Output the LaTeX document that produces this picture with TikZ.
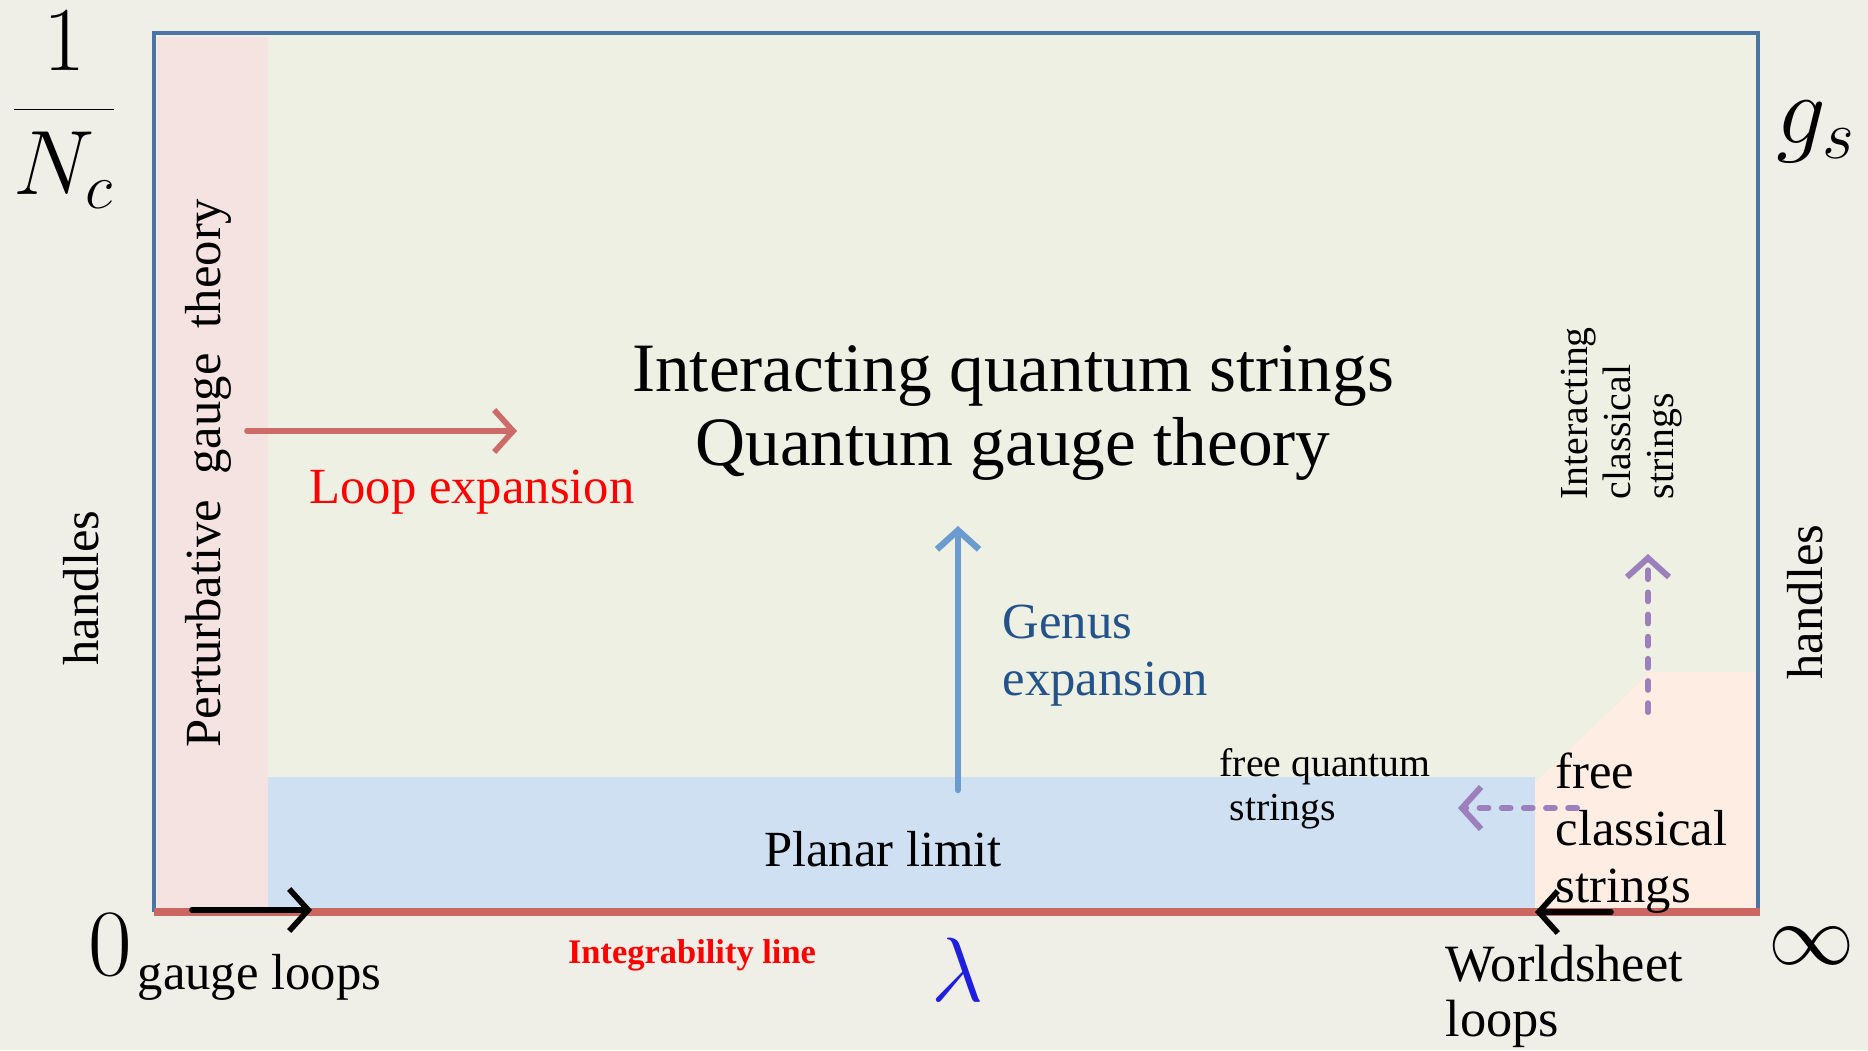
\RequirePackage{fix-cm}
\documentclass[tikz,border=0pt]{standalone}
\usepackage{fontspec}
\setmainfont{Liberation Serif}
\usetikzlibrary{arrows.meta}

\definecolor{bgcol}{HTML}{F0EFE7}
\definecolor{inner}{HTML}{EDF0E3}
\definecolor{pinkreg}{HTML}{F5E3E1}
\definecolor{bluereg}{HTML}{CFE0F2}
\definecolor{peachreg}{HTML}{FDEDE2}
\definecolor{framecol}{HTML}{4A74A4}
\definecolor{redline}{HTML}{CC6660}
\definecolor{looparr}{HTML}{CC6B67}
\definecolor{genusarr}{HTML}{6B9BCF}
\definecolor{purparr}{HTML}{9B80BC}
\definecolor{genustxt}{HTML}{24528A}
\definecolor{lamcol}{HTML}{1F1FE0}

\begin{document}
\begin{tikzpicture}[
	x=0.01cm, y=-0.01cm,
	lbl/.style={inner sep=0pt, font=\fontsize{14.4}{16.2}\selectfont},
	big/.style={inner sep=0pt, font=\fontsize{19.7}{21}\selectfont},
	small/.style={inner sep=0pt, font=\fontsize{11.3}{12.3}\selectfont},
	sym/.style={inner sep=0pt, font=\fontsize{25}{30}\selectfont},
	chev/.style={-{Straight Barb[length=1.9mm, width=4.2mm]}, line cap=round},
	loopar/.style={chev, looparr, line width=1.6pt},
	genar/.style={chev, genusarr, line width=1.8pt},
	purpar/.style={chev, purparr, line width=1.7pt, dash pattern=on 2.5pt off 3.8pt},
	blkar/.style={chev, black, line width=1.6pt},
]

% --- Hintergrund ---
\useasboundingbox[fill=bgcol] (0,0) rectangle (1868,1050);
\fill[inner] (154,33) rectangle (1758,912);
\fill[pinkreg] (157,37) rectangle (268,910);
\fill[bluereg] (268,777) rectangle (1535,910);
\fill[peachreg] (1535,910) -- (1535,783) -- (1650,672) -- (1756,672) -- (1756,910) -- cycle;

% --- Rahmen und Integrabilitaetslinie ---
\draw[framecol, line width=1.4pt] (154,33) rectangle (1758,910);
\draw[redline, line width=2.4pt] (154,912) -- (1760,912);

% --- Achsen ---
\node[sym, font=\fontsize{26}{30}\selectfont] (nc) at (64,110) {$\displaystyle\frac{1}{N_c}$};
\node[sym, font=\fontsize{28}{32}\selectfont] (gs) at (1816,132) {$g_s$};
\node[sym, font=\fontsize{27}{30}\selectfont, anchor=base] (zero) at (110,975) {$0$};
\node[sym, font=\fontsize{24.5}{28}\selectfont] (inf) at (1812,946) {$\infty$};
\node[sym, font=\fontsize{26}{28}\selectfont, text=lamcol] (lam) at (958,970) {$\lambda$};
\node[lbl, rotate=90, anchor=base] (hl) at (98,588) {handles};
\node[lbl, rotate=90, anchor=base] (hr) at (1822,602) {handles};

% --- Bereiche ---
\node[lbl, rotate=90, anchor=base] (pert) at (220,473) {Perturbative\ \ gauge\ \ theory};
\node[big, align=center, anchor=base] (main) at (1013,465)
	{Interacting quantum strings\\Quantum gauge theory};
\node[lbl, text=red, anchor=base] (loop) at (472,503) {Loop expansion};
\node[lbl, text=genustxt, align=left, anchor=base west] (genus) at (1002,695)
	{Genus\\expansion};
\node[lbl, anchor=base] (planar) at (883,866) {Planar limit};
\node[small, align=left, anchor=base west] (fqs) at (1219,820)
	{free quantum\\\hspace*{0.25em}strings};
\node[lbl, align=left, anchor=base west] (fcs) at (1555,902)
	{free\\classical\\strings};
\node[small, rotate=90, align=left, anchor=north west] (ics) at (1560,500)
	{Interacting\\classical\\strings};

% --- untere Beschriftungen ---
\node[lbl, anchor=base west] (gl) at (137,989) {gauge loops};
\node[inner sep=0pt, font=\fontsize{9.8}{11}\selectfont\bfseries, text=red, anchor=base] (intl)
	at (692,963) {Integrability line};
\node[lbl, font=\fontsize{14.9}{15.6}\selectfont, align=left, anchor=base west] (ws)
	at (1445,1036) {Worldsheet\\loops};

% --- Pfeile ---
\coordinate (le0) at (247,431);
\coordinate (le1) at (517,431);
\draw[loopar] (le0) -- (le1);

\coordinate (ge0) at (958,790);
\coordinate (ge1) at (958,526);
\draw[genar] (ge0) -- (ge1);

\coordinate (pv0) at (1648,712);
\coordinate (pv1) at (1648,554);
\draw[purpar] (pv0) -- (pv1);

\coordinate (ph0) at (1577,808);
\coordinate (ph1) at (1458,808);
\draw[purpar] (ph0) -- (ph1);

\coordinate (bl0) at (192,910);
\coordinate (bl1) at (312,910);
\draw[blkar] (bl0) -- (bl1);

\coordinate (br0) at (1611,912);
\coordinate (br1) at (1535,912);
\draw[blkar] (br0) -- (br1);

\end{tikzpicture}
\end{document}
